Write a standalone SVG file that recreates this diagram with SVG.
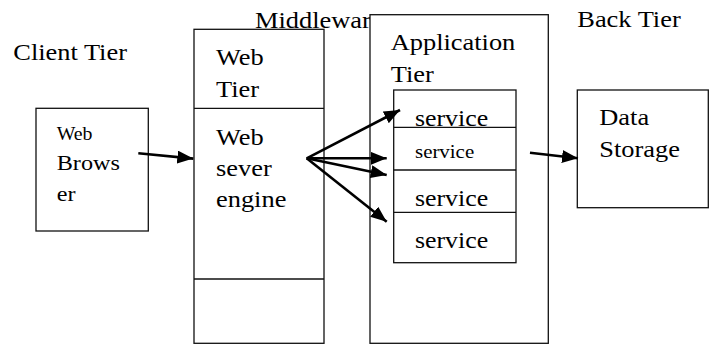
<svg xmlns="http://www.w3.org/2000/svg" width="712" height="345" viewBox="0 0 712 345">
  <defs>
    <style>
      .box { fill: none; stroke: #111; stroke-width: 1.3; }
      .boxw { fill: #fff; stroke: #111; stroke-width: 1.3; }
      .div { stroke: #111; stroke-width: 1.3; }
      text { font-family: "Liberation Serif", "Times New Roman", serif; fill: #000; }
      .t { font-size: 24px; }
      .s { font-size: 19px; }
      .conn { stroke: #000; stroke-width: 2.6; fill: none; marker-end: url(#arrow); }
    </style>
    <marker id="arrow" markerUnits="userSpaceOnUse" markerWidth="17" markerHeight="14" refX="16" refY="6.5" orient="auto">
      <path d="M0,0 L16,6.5 L0,13 Z" fill="#000"/>
    </marker>
  </defs>
  <rect width="712" height="345" fill="#fff"/>

  <!-- tier headings -->
  <g id="headings">
    <text class="t" transform="translate(13.3,60) scale(1.1,1)">Client Tier</text>
    <text class="t" transform="translate(255,27.7) scale(1.1,1)">Middlewar</text>
    <text class="t" transform="translate(577.3,26.7) scale(1.1,1)">Back Tier</text>
  </g>

  <!-- client: web browser -->
  <g id="web-browser">
    <rect class="box" x="36" y="108.3" width="112.3" height="122.7"/>
    <text style="font-size:18px" transform="translate(56.7,140) scale(1.1,1)">Web</text>
    <text style="font-size:22px" transform="translate(56.7,169.5) scale(1.1,1)">Brows</text>
    <text style="font-size:22px" transform="translate(56.7,201) scale(1.1,1)">er</text>
  </g>

  <!-- middleware: web tier -->
  <g id="web-tier">
    <rect class="box" x="194" y="29.3" width="130" height="314"/>
    <line class="div" x1="194" y1="108.3" x2="324" y2="108.3"/>
    <line class="div" x1="194" y1="279" x2="324" y2="279"/>
    <text class="t" transform="translate(216,65) scale(1.1,1)">Web</text>
    <text class="t" transform="translate(216,96.5) scale(1.1,1)">Tier</text>
    <text class="t" transform="translate(216,145) scale(1.1,1)">Web</text>
    <text class="t" transform="translate(216,175.5) scale(1.1,1)">sever</text>
    <text class="t" transform="translate(216,206.5) scale(1.1,1)">engine</text>
  </g>

  <!-- middleware: application tier -->
  <g id="application-tier">
    <rect class="boxw" x="370" y="14.7" width="178.3" height="328.6"/>
    <text class="t" transform="translate(390.7,50) scale(1.1,1)">Application</text>
    <text class="t" transform="translate(390.7,81.7) scale(1.1,1)">Tier</text>
  </g>

  <!-- services stack -->
  <g id="services">
    <rect class="box" x="393.7" y="90" width="122.3" height="172.7"/>
    <line class="div" x1="393.7" y1="127.3" x2="516" y2="127.3"/>
    <line class="div" x1="393.7" y1="170" x2="516" y2="170"/>
    <line class="div" x1="393.7" y1="212.3" x2="516" y2="212.3"/>
    <text style="font-size:23.5px" transform="translate(415,125.5) scale(1.1,1)">service</text>
    <text class="s" transform="translate(415,158) scale(1.1,1)">service</text>
    <text style="font-size:23.5px" transform="translate(415,205.7) scale(1.1,1)">service</text>
    <text style="font-size:23.5px" transform="translate(415,248.3) scale(1.1,1)">service</text>
  </g>

  <!-- back tier: data storage -->
  <g id="data-storage">
    <rect class="box" x="577.3" y="90" width="131" height="117.7"/>
    <text class="t" transform="translate(599.3,125) scale(1.1,1)">Data</text>
    <text class="t" transform="translate(599.3,156.7) scale(1.1,1)">Storage</text>
  </g>

  <!-- connectors -->
  <g id="connectors">
    <line class="conn" x1="138.3" y1="153.3" x2="193.3" y2="158.6"/>
    <line class="conn" x1="306.7" y1="158.3" x2="400" y2="110"/>
    <line class="conn" x1="306.7" y1="158.3" x2="386.7" y2="158.3"/>
    <line class="conn" x1="306.7" y1="158.3" x2="386.7" y2="175"/>
    <line class="conn" x1="306.7" y1="158.3" x2="386.7" y2="221.7"/>
    <line class="conn" x1="530" y1="152.7" x2="578" y2="158.3"/>
  </g>
</svg>
